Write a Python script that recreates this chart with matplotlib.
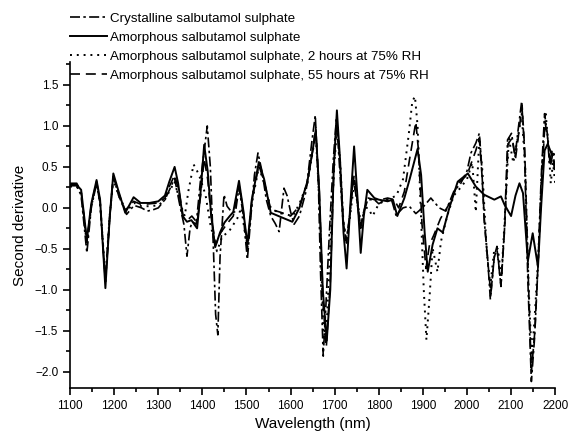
import matplotlib
matplotlib.use('Agg')
import matplotlib.pyplot as plt
from matplotlib.ticker import MultipleLocator

plt.rcParams['font.family'] = ['Liberation Sans', 'DejaVu Sans']

########################################################################
# crystalline salbutamol sulphate
cryst_wl = [1100, 1115, 1125, 1138, 1148, 1160, 1168, 1180, 1190, 1198, 1210, 1228, 1245,
            1262, 1275, 1290, 1300, 1315, 1327, 1337, 1350, 1358, 1365, 1372, 1377, 1386,
            1395, 1411, 1418, 1425, 1430, 1435, 1440, 1449, 1456, 1466, 1475, 1483, 1493,
            1502, 1510, 1518, 1526, 1535, 1545, 1555, 1565, 1574, 1580, 1585, 1592, 1600,
            1608, 1620, 1635, 1648, 1656, 1663, 1668, 1674, 1680, 1688, 1697, 1704, 1711,
            1718, 1726, 1734, 1742, 1750, 1758, 1766, 1775, 1790, 1800, 1815, 1830, 1839,
            1855, 1869, 1884, 1899, 1918, 1937, 1952, 1970, 1986, 2000, 2009, 2020, 2028,
            2033, 2039, 2047, 2053, 2062, 2068, 2077, 2085, 2092, 2101, 2109, 2115, 2124,
            2130, 2138, 2146, 2153, 2161, 2168, 2176, 2182, 2187, 2193, 2200]
cryst_d2 = [0.27, 0.27, 0.15, -0.55, 0.0, 0.30, 0.05, -0.90, -0.10, 0.38, 0.15, -0.08, 0.03,
            0.0, -0.04, -0.02, 0.0, 0.10, 0.24, 0.36, 0.0, -0.20, -0.59, -0.25, -0.17, -0.20,
            0.30, 1.00, 0.50, -0.50, -1.30, -1.55, -0.60, 0.16, 0.02, -0.05, -0.05, 0.25, -0.10,
            -0.63, -0.10, 0.40, 0.67, 0.45, 0.10, -0.10, -0.19, -0.29, 0.0, 0.24, 0.15, -0.05,
            -0.20, -0.10, 0.20, 0.80, 1.13, 0.30, -0.80, -1.81, -1.20, -0.30, 0.60, 1.10, 0.50,
            -0.10, -0.40, -0.10, 0.36, 0.10, -0.23, -0.05, 0.10, 0.10, 0.05, 0.10, 0.08, -0.09,
            0.0, 0.02, -0.07, 0.0, 0.12, 0.0, -0.04, 0.20, 0.30, 0.45, 0.67, 0.79, 0.91,
            0.54, -0.15, -0.63, -1.12, -0.59, -0.47, -0.96, -0.27, 0.83, 0.91, 0.63, 0.91, 1.30,
            0.75, -0.88, -2.12, -1.61, -0.72, 0.34, 1.15, 0.91, 0.54, 0.70, 0.50]

# amorphous salbutamol sulphate
amorph_wl = [1100, 1115, 1125, 1138, 1148, 1160, 1168, 1180, 1190, 1198, 1210, 1225, 1244,
             1260, 1280, 1300, 1315, 1325, 1337, 1345, 1355, 1365, 1375, 1388, 1396, 1404,
             1412, 1420, 1429, 1440, 1450, 1462, 1470, 1483, 1492, 1502, 1512, 1528, 1540,
             1555, 1577, 1604, 1620, 1638, 1650, 1657, 1665, 1673, 1682, 1690, 1698, 1705,
             1712, 1720, 1727, 1735, 1744, 1752, 1759, 1766, 1774, 1790, 1800, 1820, 1832,
             1842, 1858, 1870, 1888, 1896, 1904, 1911, 1922, 1933, 1945, 1960, 1979, 2002,
             2020, 2039, 2062, 2077, 2085, 2100, 2110, 2119, 2127, 2138, 2149, 2161, 2168,
             2176, 2183, 2191, 2200]
amorph_d2 = [0.28, 0.28, 0.22, -0.39, 0.05, 0.34, 0.10, -0.98, -0.10, 0.42, 0.20, -0.06, 0.13,
             0.06, 0.06, 0.08, 0.15, 0.32, 0.50, 0.30, -0.10, -0.17, -0.15, -0.25, 0.20, 0.77,
             0.45, -0.10, -0.48, -0.30, -0.18, -0.10, -0.05, 0.33, 0.0, -0.45, 0.10, 0.56, 0.35,
             -0.06, -0.11, -0.17, 0.0, 0.32, 0.70, 0.95, 0.20, -1.00, -1.62, -1.00, 0.50, 1.19,
             0.60, -0.30, -0.74, 0.0, 0.75, 0.10, -0.55, -0.10, 0.22, 0.12, 0.10, 0.08, 0.10,
             -0.10, 0.12, 0.35, 0.72, 0.40, -0.30, -0.78, -0.45, -0.25, -0.30, 0.0, 0.32, 0.42,
             0.26, 0.16, 0.10, 0.14, 0.04, -0.10, 0.15, 0.30, 0.18, -0.65, -0.31, -0.72, 0.0,
             0.70, 0.78, 0.67, 0.65]

# amorphous, 2 hours at 75% RH
rh2_wl = [1100, 1115, 1125, 1138, 1148, 1160, 1168, 1180, 1190, 1198, 1210, 1228, 1245,
          1262, 1280, 1300, 1315, 1327, 1337, 1350, 1360, 1368, 1380, 1388, 1395, 1407,
          1418, 1433, 1445, 1460, 1479, 1488, 1502, 1512, 1528, 1540, 1555, 1570, 1590,
          1605, 1620, 1638, 1657, 1665, 1675, 1683, 1692, 1700, 1706, 1713, 1720, 1727,
          1735, 1744, 1752, 1760, 1768, 1775, 1786, 1800, 1820, 1840, 1855, 1868, 1876,
          1882, 1888, 1895, 1902, 1908, 1915, 1922, 1933, 1941, 1955, 1970, 1986, 2000,
          2012, 2020, 2028, 2035, 2045, 2053, 2062, 2070, 2078, 2088, 2095, 2105, 2115,
          2124, 2132, 2140, 2147, 2155, 2162, 2170, 2178, 2185, 2190, 2195, 2200]
rh2_d2 = [0.26, 0.26, 0.18, -0.45, 0.02, 0.30, 0.06, -0.85, -0.08, 0.35, 0.15, -0.04, 0.06,
          0.02, 0.02, 0.03, 0.10, 0.22, 0.32, 0.05, -0.10, 0.20, 0.53, 0.45, 0.36, 0.16,
          -0.20, -0.53, -0.35, -0.29, -0.13, 0.0, -0.50, 0.05, 0.50, 0.30, 0.0, -0.05, -0.08,
          -0.10, 0.05, 0.30, 0.90, 0.10, -1.60, -1.30, -0.20, 0.60, 1.00, 0.50, -0.20, -0.40,
          -0.10, 0.30, 0.05, -0.20, 0.0, 0.0, -0.10, 0.05, 0.10, 0.15, 0.35, 0.90, 1.30,
          1.36, 1.00, 0.0, -1.00, -1.61, -1.10, -0.49, -0.78, -0.41, -0.10, 0.15, 0.25, 0.35,
          0.55, -0.05, 0.85, 0.45, -0.55, -0.95, -0.50, -0.50, -0.85, 0.10, 0.85, 0.55, 0.85,
          1.15, 0.50, -1.00, -1.85, -1.20, -0.55, 0.50, 1.18, 0.75, 0.30, 0.55, 0.30]

# amorphous, 55 hours at 75% RH
rh55_wl = [1100, 1115, 1125, 1138, 1148, 1160, 1168, 1180, 1190, 1198, 1210, 1225, 1244,
           1262, 1280, 1300, 1315, 1325, 1337, 1347, 1357, 1366, 1376, 1388, 1396, 1404,
           1412, 1420, 1430, 1442, 1455, 1470, 1483, 1492, 1502, 1512, 1528, 1540, 1555,
           1575, 1600, 1620, 1638, 1650, 1657, 1665, 1674, 1681, 1690, 1698, 1705, 1712,
           1720, 1727, 1735, 1744, 1752, 1759, 1768, 1776, 1790, 1805, 1820, 1835, 1845,
           1858, 1870, 1884, 1890, 1898, 1907, 1915, 1925, 1940, 1960, 1980, 2000, 2010,
           2020, 2028, 2034, 2040, 2048, 2054, 2062, 2068, 2077, 2086, 2093, 2102, 2110,
           2116, 2125, 2131, 2139, 2146, 2154, 2161, 2169, 2177, 2183, 2189, 2194, 2200]
rh55_d2 = [0.30, 0.30, 0.20, -0.42, 0.04, 0.32, 0.08, -0.90, -0.10, 0.38, 0.18, -0.03, 0.08,
           0.04, 0.05, 0.06, 0.12, 0.26, 0.40, 0.20, -0.12, -0.15, -0.10, -0.18, 0.15, 0.60,
           0.35, -0.10, -0.45, -0.30, -0.20, -0.10, 0.28, 0.0, -0.50, 0.08, 0.52, 0.32, -0.02,
           -0.05, -0.10, 0.02, 0.30, 0.70, 0.98, 0.20, -1.20, -1.70, -0.90, 0.45, 1.10, 0.55,
           -0.20, -0.43, -0.05, 0.40, 0.05, -0.25, 0.0, 0.12, 0.10, 0.10, 0.12, 0.10, 0.0,
           0.20, 0.60, 1.05, 0.70, -0.20, -0.74, -0.45, -0.33, -0.13, 0.05, 0.30, 0.40, 0.55,
           0.70, 0.85, 0.40, -0.20, -0.70, -1.05, -0.60, -0.50, -0.95, -0.20, 0.78, 0.85, 0.60,
           0.85, 1.25, 0.70, -0.85, -2.00, -1.50, -0.70, 0.30, 1.05, 0.85, 0.50, 0.65, 0.40]

labels = ['Crystalline salbutamol sulphate',
          'Amorphous salbutamol sulphate',
          'Amorphous salbutamol sulphate, 2 hours at 75% RH',
          'Amorphous salbutamol sulphate, 55 hours at 75% RH']

########################################################################

fig = plt.figure(figsize=(5.7, 4.4), dpi=100)
ax = fig.add_axes([0.123, 0.118, 0.851, 0.741])

ax.plot(cryst_wl, cryst_d2, color='black', lw=1.2, linestyle=(0, (6, 2, 1.5, 2)), label=labels[0])
ax.plot(amorph_wl, amorph_d2, color='black', lw=1.4, linestyle='-', label=labels[1])
ax.plot(rh2_wl, rh2_d2, color='black', lw=1.4, linestyle=(0, (1, 2.5)), label=labels[2])
ax.plot(rh55_wl, rh55_d2, color='black', lw=1.2, linestyle=(0, (6, 3.5)), label=labels[3])

ax.set_xlim(1100, 2200)
ax.set_ylim(-2.2, 1.78)
ax.xaxis.set_major_locator(MultipleLocator(100))
ax.xaxis.set_minor_locator(MultipleLocator(50))
ax.yaxis.set_major_locator(MultipleLocator(0.5))
ax.yaxis.set_minor_locator(MultipleLocator(0.25))
ax.tick_params(which='major', direction='out', length=5, width=1.2, labelsize=8.5)
ax.tick_params(which='minor', direction='out', length=3, width=1.2)
ax.spines['top'].set_visible(False)
ax.spines['right'].set_visible(False)
ax.spines['left'].set_linewidth(1.2)
ax.spines['bottom'].set_linewidth(1.2)

ax.set_xlabel('Wavelength (nm)', fontsize=11, labelpad=4)
ax.set_ylabel('Second derivative', fontsize=11, labelpad=6)

fig.legend(loc='upper left', bbox_to_anchor=(0.1135, 0.984), frameon=False,
           fontsize=9.6, handlelength=2.8, handletextpad=0.2, labelspacing=0.5,
           borderaxespad=0.0)

fig.savefig('out.png', dpi=100)
